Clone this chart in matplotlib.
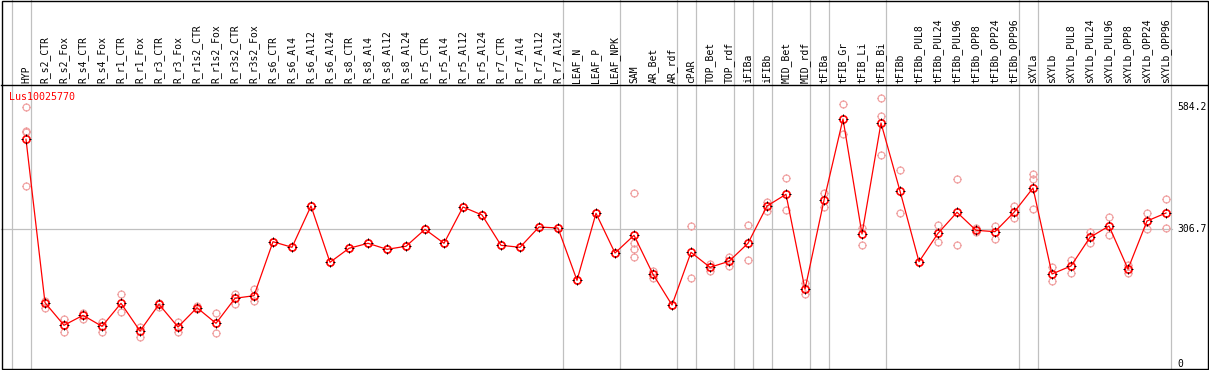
import matplotlib
matplotlib.use('Agg')
import matplotlib.pyplot as plt
from matplotlib.path import Path
from matplotlib.patches import Rectangle

# expression profile of one gene over 61 samples
gene = 'Lus10025770'

samples = ['HYP',
           'R_s2_CTR', 'R_s2_Fox', 'R_s4_CTR', 'R_s4_Fox', 'R_r1_CTR', 'R_r1_Fox',
           'R_r3_CTR', 'R_r3_Fox', 'R_r1s2_CTR', 'R_r1s2_Fox', 'R_r3s2_CTR', 'R_r3s2_Fox',
           'R_s6_CTR', 'R_s6_Al4', 'R_s6_Al12', 'R_s6_Al24', 'R_s8_CTR', 'R_s8_Al4',
           'R_s8_Al12', 'R_s8_Al24', 'R_r5_CTR', 'R_r5_Al4', 'R_r5_Al12', 'R_r5_Al24',
           'R_r7_CTR', 'R_r7_Al4', 'R_r7_Al12', 'R_r7_Al24',
           'LEAF_N', 'LEAF_P', 'LEAF_NPK',
           'SAM', 'AR_Bet', 'AR_rdf',
           'cPAR',
           'TOP_Bet', 'TOP_rdf',
           'iFIBa', 'iFIBb',
           'MID_Bet', 'MID_rdf',
           'tFIBa',
           'tFIB_Gr', 'tFIB_Li', 'tFIB_Bi',
           'tFIBb', 'tFIBb_PUL8', 'tFIBb_PUL24', 'tFIBb_PUL96',
           'tFIBb_OPP8', 'tFIBb_OPP24', 'tFIBb_OPP96',
           'sXYLa',
           'sXYLb', 'sXYLb_PUL8', 'sXYLb_PUL24', 'sXYLb_PUL96',
           'sXYLb_OPP8', 'sXYLb_OPP24', 'sXYLb_OPP96']

# number of samples in each group (gray separators between groups)
group_sizes = [1, 28, 3, 3, 1, 2, 1, 1, 2, 1, 3, 7, 1, 7]

means = [511.4,
         139.7, 88.3, 111.0, 86.0, 138.3, 75.3, 136.0, 84.4, 128.3, 92.8, 149.7, 155.6,
         278.4, 265.7, 359.6, 231.6, 263.4, 274.8, 261.1, 268.0,
         306.6, 274.8, 357.4, 339.2, 270.2, 265.7, 311.9, 309.6,
         190.6, 343.0, 252.7,
         293.0, 204.3, 134.4,
         254.3,
         220.2, 233.8,
         274.8, 359.6,
         386.3, 170.2,
         372.6,
         557.6, 296.0, 548.5,
         393.8, 232.9, 297.5, 345.3, 304.4, 301.2, 345.3,
         400.6,
         205.0, 223.2, 288.4, 314.1, 216.3, 325.5, 343.7]

replicates = [[584.2, 531.0, 528.0, 405.1],
              [144.2, 127.6], [101.9, 72.3], [115.6, 103.3], [95.8, 73.7],
              [158.8, 117.8], [85.1, 62.3], [139.7, 130.6], [95.8, 72.3],
              [132.2, 126.0], [115.6, 70.1], [160.1, 137.4], [170.2, 144.2],
              [278.4], [265.7], [359.6], [231.6], [263.4], [274.8], [261.1], [268.0],
              [306.6], [274.8], [357.4], [339.2], [270.2], [265.7], [311.9], [309.6],
              [190.6], [343.0], [252.7],
              [388.5, 274.8, 261.1, 242.9], [212.5, 196.5], [134.4],
              [313.5, 195.2],
              [227.7, 211.1], [244.3, 223.2],
              [316.4, 236.1], [369.4, 349.0],
              [422.7, 349.9], [183.8, 158.8],
              [388.5, 357.4],
              [591.7, 522.8], [310.3, 270.9], [604.6, 564.4, 475.7],
              [441.5, 343.0], [232.9], [315.7, 278.4], [420.4, 270.9],
              [310.3, 301.2], [314.8, 285.3], [359.6, 333.0],
              [431.8, 421.1, 352.1],
              [221.6, 188.4], [236.8, 207.9], [300.5, 274.8], [334.6, 293.0],
              [224.7, 206.6], [343.0, 308.0], [375.6, 308.9]]

axis_values = [584.2, 306.7, 0]
mid_value = 306.7

# ---- page geometry (pixels of the 1209x370 picture)
W, H = 1209, 370
X0, DX = 26.0, 19.0          # pixel x of first sample, spacing
Y0, KY = 364.1, 0.4396       # pixel y of value 0, pixels per unit

def px2x(px):
    return (px - X0) / DX

def py2y(py):
    return (Y0 - py) / KY

fig = plt.figure(figsize=(W / 100.0, H / 100.0), dpi=100)
ax = fig.add_axes([0, 0, 1, 1])
ax.set_xlim(px2x(0), px2x(W))
ax.set_ylim(py2y(H), py2y(0))
ax.axis('off')

mono = 'DejaVu Sans Mono'
gray = '#c0c0c0'
pink = '#f2a3a3'

# outer frame and header separator
fig.add_artist(Rectangle((1.5 / W, 0.8 / H), 1206.0 / W, 368.6 / H,
                         transform=fig.transFigure, fill=False,
                         edgecolor='black', lw=1.0, zorder=10))
ax.plot([px2x(1), px2x(1208)], [py2y(85.5)] * 2, color='black', lw=1.0, zorder=5)

# gray group separators, over the whole height
bounds = [-1]
for n in group_sizes:
    bounds.append(bounds[-1] + n)
for b in bounds:
    ax.plot([b + 0.237] * 2, [py2y(0), py2y(369)], color=gray, lw=0.9, zorder=1)

# reference line
ax.plot([px2x(1), px2x(1172)], [mid_value] * 2, color=gray, lw=0.9, zorder=1)

# sample names in the header
for i, name in enumerate(samples):
    ax.text(i, py2y(83.5), name, rotation=90, ha='center', va='bottom',
            fontfamily=mono, fontsize=7, color='black')

ax.text(px2x(9.5), py2y(96.7), gene, ha='left', va='center',
        fontfamily=mono, fontsize=7.2, color='red')

for v in axis_values:
    ax.text(px2x(1177), v, ('%g' % v), ha='left', va='center',
            fontfamily=mono, fontsize=7, color='black')

# marker: circle with four little ticks
ticks = Path([(0, 0.85), (0, 1.25), (0, -0.85), (0, -1.25),
              (0.85, 0), (1.25, 0), (-0.85, 0), (-1.25, 0)],
             [Path.MOVETO, Path.LINETO] * 4)

rx, ry = [], []
for i, reps in enumerate(replicates):
    rx += [i] * len(reps)
    ry += reps
ax.plot(rx, ry, ls='none', marker='o', ms=5.0, mfc='none', mec=pink, mew=0.9, zorder=2)
ax.plot(rx, ry, ls='none', marker=ticks, ms=6.3, mec='#e48a8a', mew=0.7, zorder=2)

idx = list(range(len(samples)))
ax.plot(idx, means, color='red', lw=0.9, zorder=3)
ax.plot(idx, means, ls='none', marker='o', ms=5.2, mfc='none', mec='red', mew=1.2, zorder=4)
ax.plot(idx, means, ls='none', marker=ticks, ms=6.5, mec='black', mew=0.7, zorder=4)

plt.savefig('out.png', dpi=100)
